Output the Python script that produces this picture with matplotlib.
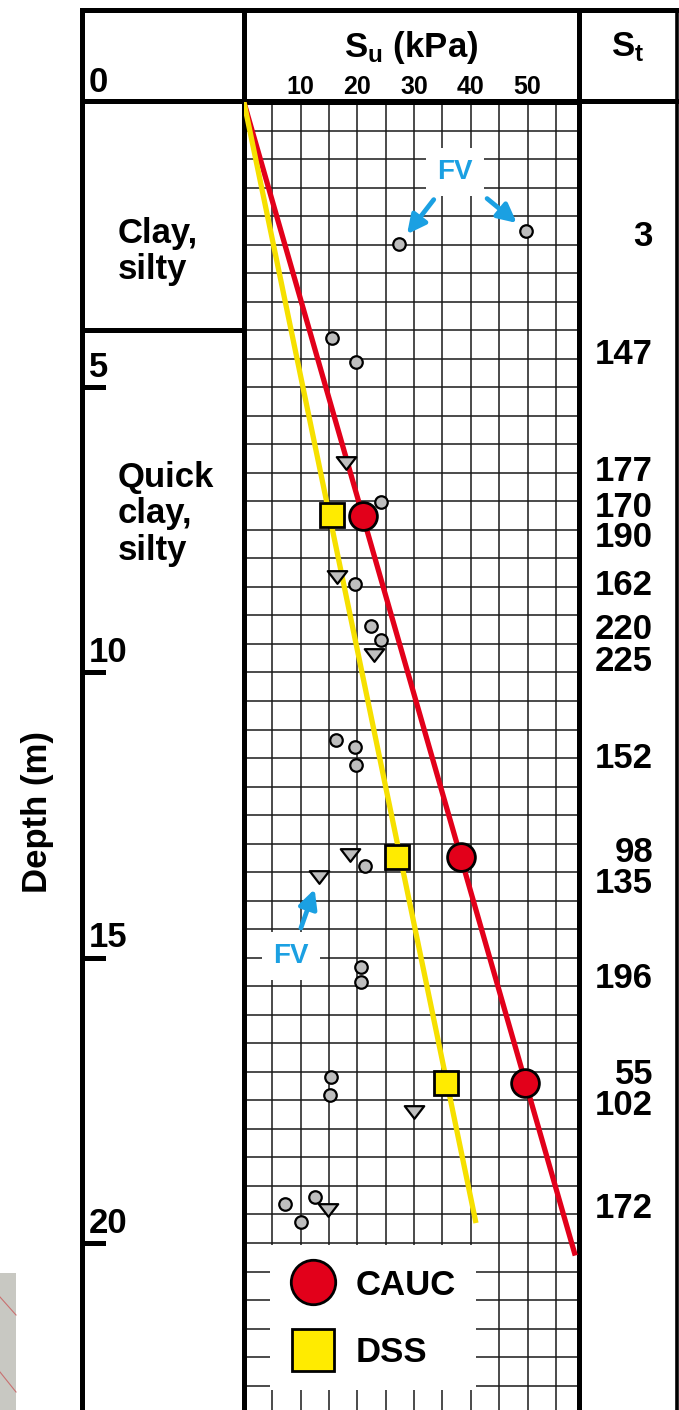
import numpy as np
import matplotlib
matplotlib.use('Agg')
import matplotlib.pyplot as plt
from matplotlib.lines import Line2D
from matplotlib.patches import Rectangle
from matplotlib.path import Path
from matplotlib.transforms import blended_transform_factory

plt.rcParams['font.family'] = ['Liberation Sans', 'DejaVu Sans']
plt.rcParams['font.weight'] = 'bold'
plt.rcParams['mathtext.default'] = 'regular'

# ---------------- data ----------------
cauc_su = [21.0, 38.3, 49.5]
cauc_depth = [7.26, 13.23, 17.2]
dss_su = [15.5, 27.0, 35.6]
dss_depth = [7.24, 13.23, 17.2]

cauc_trend_su = [0.0, 58.4]
cauc_trend_depth = [0.0, 20.22]
dss_trend_su = [0.0, 40.9]
dss_trend_depth = [0.0, 19.65]

circle_su = [27.4, 49.8, 15.6, 19.8, 24.1, 19.6, 22.4, 24.1, 16.2, 19.6, 19.7,
             21.3, 20.7, 20.7, 15.3, 15.2, 7.3, 12.5, 10.0]
circle_depth = [2.49, 2.26, 4.13, 4.56, 7.02, 8.45, 9.18, 9.43, 11.18, 11.31, 11.62,
                13.39, 15.17, 15.43, 17.09, 17.40, 19.32, 19.20, 19.64]

triangle_su = [18.0, 16.4, 22.9, 18.7, 13.2, 29.9, 14.9]
triangle_depth = [6.33, 8.32, 9.69, 13.20, 13.59, 17.70, 19.42]

st_labels = ['3', '147', '177', '170', '190', '162', '220', '225', '152',
             '98', '135', '196', '55', '102', '172']
st_depth = [2.30, 4.36, 6.42, 7.04, 7.58, 8.42, 9.18, 9.74, 11.44,
            13.09, 13.63, 15.30, 16.99, 17.52, 19.33]

su_ticks = [10, 20, 30, 40, 50]
depth_ticks = [0, 5, 10, 15, 20]
layer_names = ['Clay,\nsilty', 'Quick\nclay,\nsilty']
layer_label_depth = [2.62, 7.22]
layer_boundary = [4.0]

fv_label = 'FV'
fv_upper_targets = [0, 1]      # indices in circle arrays
fv_lower_targets = [4]         # index in triangle arrays

# ---------------- styling / layout ----------------
RED = '#E2001A'
YELLOW = '#FFEB00'
YLINE = '#F6E000'
BLUE = '#1BA0E2'
GRAY = '#BEBEBE'
FS = 25

W, H = 679, 1410
x_left, x_mid1, x_mid2, x_right = 81.7, 243.9, 579.0, 676.5
y_top, y_head = 9.5, 102.0
px_per_m = 57.05
px_per_kpa = 5.674
depth_max = (H - y_head) / px_per_m
su_max = (x_mid2 - x_mid1) / px_per_kpa
BW = 3.6

fig = plt.figure(figsize=(W / 100, H / 100), dpi=100)
fig.patch.set_facecolor('white')

bg = fig.add_axes([0, 0, 1, 1], zorder=0)
bg.set_autoscale_on(False)
bg.set_xlim(0, W)
bg.set_ylim(H, 0)
bg.axis('off')

ax = fig.add_axes([x_mid1 / W, 0, (x_mid2 - x_mid1) / W, (H - y_head) / H], zorder=1)
ax.set_facecolor('none')
ax.set_xlim(0, su_max)
ax.set_ylim(depth_max, 0)

mix = blended_transform_factory(bg.transData, ax.transData)

# grid
ax.set_xticks(su_ticks)
ax.set_xticks(np.arange(5, su_max, 10), minor=True)
ax.set_yticks(np.arange(0.5, depth_max, 0.5))
ax.set_axisbelow(True)
ax.grid(True, which='both', color='#1a1a1a', lw=1.1)
ax.xaxis.tick_top()
ax.tick_params(axis='x', which='both', length=0, pad=2, labelsize=18)
ax.tick_params(axis='y', length=0, labelleft=False)
for side in ['left', 'right', 'top']:
    ax.spines[side].set_linewidth(BW)
ax.spines['bottom'].set_visible(False)

# trend lines
ax.plot(cauc_trend_su, cauc_trend_depth, color=RED, lw=3.8, zorder=3, solid_capstyle='butt')
ax.plot(dss_trend_su, dss_trend_depth, color=YLINE, lw=3.8, zorder=3, solid_capstyle='butt')

# gray points
tri = Path([(-1, 0.65), (1, 0.65), (0, -0.65), (-1, 0.65)],
           [Path.MOVETO, Path.LINETO, Path.LINETO, Path.CLOSEPOLY])
ax.plot(circle_su, circle_depth, ls='none', marker='o', ms=9, mfc=GRAY, mec='k', mew=1.6, zorder=4)
ax.plot(triangle_su, triangle_depth, ls='none', marker=tri, ms=14, mfc=GRAY, mec='k', mew=1.6,
        zorder=4)

# lab tests
ax.plot(dss_su, dss_depth, ls='none', marker='s', ms=17.5, mfc=YELLOW, mec='k', mew=2, zorder=5)
ax.plot(cauc_su, cauc_depth, ls='none', marker='o', ms=20, mfc=RED, mec='k', mew=2, zorder=5)

# FV annotations
arrow_kw = dict(arrowstyle='-|>', color=BLUE, lw=3.4, mutation_scale=28, shrinkA=3, shrinkB=9)
box_kw = dict(boxstyle='square,pad=0.4', fc='white', ec='none')
for i in fv_upper_targets:
    ax.annotate(fv_label, xy=(circle_su[i], circle_depth[i]), xytext=(37.2, 1.23),
                color=BLUE, fontsize=20, ha='center', va='center', bbox=box_kw,
                arrowprops=arrow_kw, zorder=6)
for i in fv_lower_targets:
    ax.annotate(fv_label, xy=(triangle_su[i], triangle_depth[i]), xytext=(8.3, 14.97),
                color=BLUE, fontsize=20, ha='center', va='center', bbox=box_kw,
                arrowprops=arrow_kw, zorder=6)

# legend area
ax.add_patch(Rectangle((4.6, 20.04), 36.3, 2.54, fc='white', ec='none', zorder=1))
handles = [Line2D([], [], ls='none', marker='o', ms=32, mfc=RED, mec='k', mew=2, label='CAUC'),
           Line2D([], [], ls='none', marker='s', ms=30, mfc=YELLOW, mec='k', mew=2, label='DSS')]
ax.legend(handles=handles, loc='center left', bbox_to_anchor=(8.07, 21.33),
          bbox_transform=ax.transData, frameon=False, prop={'size': FS, 'weight': 'bold'},
          handlelength=1.35, handletextpad=0.55, labelspacing=1.0, borderpad=0, borderaxespad=0)

# ---------------- frame ----------------
def bline(xs, ys, lw=BW, transform=None):
    ln = Line2D(xs, ys, color='k', lw=lw, solid_capstyle='projecting',
                transform=transform if transform is not None else bg.transData)
    bg.add_line(ln)

bline([x_left, x_right], [y_top, y_top])
bline([x_left, x_right], [y_head - 1, y_head - 1])
bline([x_left, x_left], [y_top, H + 5])
bline([x_mid1, x_mid1], [y_top, y_head])
bline([x_mid2, x_mid2], [y_top, y_head])
bline([x_mid2, x_mid2], [y_head, H + 5])
bline([x_right, x_right], [y_top, H + 5], lw=2.6)
for d in layer_boundary:
    bline([x_left, x_mid1], [d, d], transform=mix)
for d in depth_ticks[1:]:
    bline([x_left, 103], [d, d], transform=mix)

# depth labels
for d in depth_ticks:
    bg.annotate(str(d), xy=(89, d), xycoords=mix, xytext=(0, 7.5),
                textcoords='offset points', ha='left', va='baseline', fontsize=FS)

bg.text(38, 812, 'Depth (m)', rotation=90, ha='center', va='center', fontsize=FS)
for name, d in zip(layer_names, layer_label_depth):
    bg.text(118, d, name, transform=mix, ha='left', va='center', fontsize=FS, linespacing=1.15)

bg.text((x_mid1 + x_mid2) / 2, 47, r'$S_u$ (kPa)', ha='center', va='center', fontsize=FS)
bg.text((x_mid2 + x_right) / 2, 47, r'$S_t$', ha='center', va='center', fontsize=FS)

for s, d in zip(st_labels, st_depth):
    bg.text(653, d, s, transform=mix, ha='right', va='center_baseline', fontsize=FS)

# cropped screenshot remnant at bottom-left
bg.add_patch(Rectangle((0, 1273), 16, 137, fc='#c8c8c2', ec='none'))
bg.add_line(Line2D([0, 16], [1297, 1315], color='#c87070', lw=0.8))
bg.add_line(Line2D([0, 16], [1372, 1392], color='#c87070', lw=0.8))

fig.savefig('out.png', dpi=100)
